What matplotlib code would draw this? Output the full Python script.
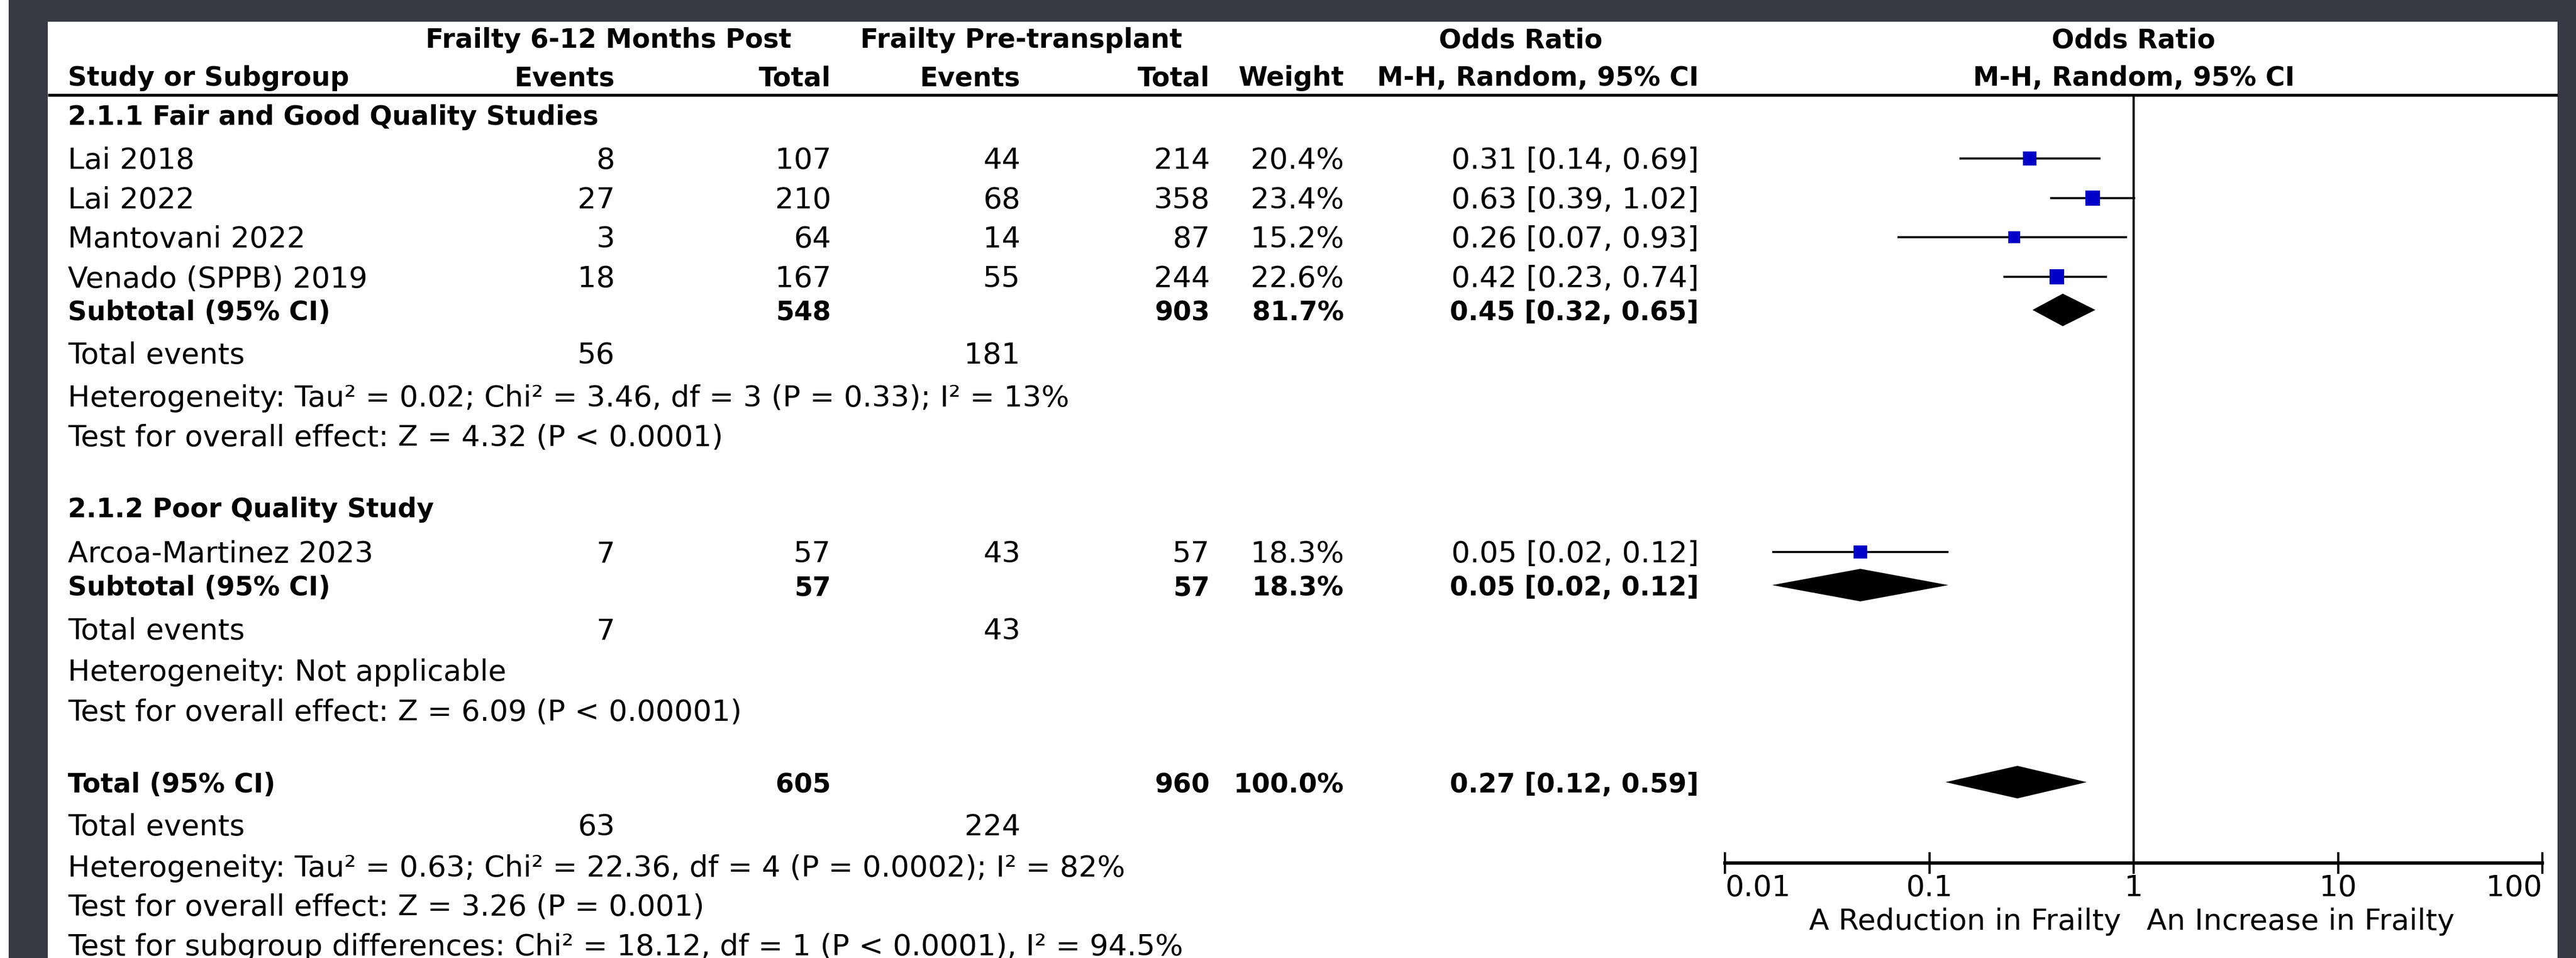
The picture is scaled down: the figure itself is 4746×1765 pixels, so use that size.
import matplotlib
matplotlib.use('Agg')
import matplotlib.pyplot as plt
from matplotlib.patches import Rectangle, Polygon
from matplotlib.ticker import NullLocator

plt.rcParams['font.family'] = ['DejaVu Sans']

# ---------------- data ----------------
studies = ["Lai 2018", "Lai 2022", "Mantovani 2022", "Venado (SPPB) 2019", "Arcoa-Martinez 2023"]
study_group = [0, 0, 0, 0, 1]
events_post = [8, 27, 3, 18, 7]
total_post = [107, 210, 64, 167, 57]
events_pre = [44, 68, 14, 55, 43]
total_pre = [214, 358, 87, 244, 57]
weights = [20.4, 23.4, 15.2, 22.6, 18.3]
odds = [0.31, 0.63, 0.26, 0.42, 0.046]
ci_low = [0.14, 0.39, 0.07, 0.23, 0.017]
ci_high = [0.69, 1.02, 0.93, 0.74, 0.124]

groups = ["2.1.1 Fair and Good Quality Studies", "2.1.2 Poor Quality Study"]
sub_events_post = [56, 7]
sub_events_pre = [181, 43]
sub_total_post = [548, 57]
sub_total_pre = [903, 57]
sub_weight = [81.7, 18.3]
sub_or = [0.45, 0.046]
sub_low = [0.32, 0.017]
sub_high = [0.65, 0.124]
sub_het = ["Heterogeneity: Tau² = 0.02; Chi² = 3.46, df = 3 (P = 0.33); I² = 13%",
           "Heterogeneity: Not applicable"]
sub_test = ["Test for overall effect: Z = 4.32 (P < 0.0001)",
            "Test for overall effect: Z = 6.09 (P < 0.00001)"]

tot_events_post = 63
tot_events_pre = 224
tot_total_post = 605
tot_total_pre = 960
tot_weight = 100.0
tot_or = 0.27
tot_low = 0.12
tot_high = 0.59
tot_het = "Heterogeneity: Tau² = 0.63; Chi² = 22.36, df = 4 (P = 0.0002); I² = 82%"
tot_test = "Test for overall effect: Z = 3.26 (P = 0.001)"
tot_sub = "Test for subgroup differences: Chi² = 18.12, df = 1 (P < 0.0001), I² = 94.5%"

xticks = [0.01, 0.1, 1, 10, 100]
xtick_labels = ["0.01", "0.1", "1", "10", "100"]
favours_left = "A Reduction in Frailty"
favours_right = "An Increase in Frailty"

# ---------------- layout ----------------
W, H = 4746, 1765
DPI = 300
FS = 13.0
FSB = 11.7
CAP = 19
DARK = '#373a44'
BLUE = '#0000c8'

X_NAME, X_E1, X_T1, X_E2, X_T2, X_W, X_CI = 125, 1133, 1531, 1880, 2229, 2476, 3130
AX_L, AX_R, AX_TOP, AX_BOT = 3178, 4684, 175, 1590

group_title_y = [211, 934]
study_y = [292, 365, 437, 510, 1017]
sub_y = [571, 1078]
sub_ev_y = [651, 1159]
sub_het_y = [730, 1235]
sub_test_y = [802, 1308]
tot_y, tot_ev_y, tot_het_y, tot_test_y, tot_sub_y = 1441, 1520, 1596, 1667, 1741

fig = plt.figure(figsize=(W / DPI, H / DPI), dpi=DPI, facecolor='white')
bg = fig.add_axes([0, 0, 1, 1])
bg.set_xlim(0, W)
bg.set_ylim(H, 0)
bg.axis('off')

bg.add_patch(Rectangle((16, 0), 72, H, color=DARK, lw=0))
bg.add_patch(Rectangle((16, 0), W - 16, 40, color=DARK, lw=0))
bg.add_patch(Rectangle((4712, 0), W - 4712, H, color=DARK, lw=0))
bg.plot([88, 4712], [AX_TOP, AX_TOP], color='black', lw=1.3, solid_capstyle='butt')


def t(x, yc, s, ha='left', bold=False):
    bg.text(x, yc + CAP, s, ha=ha, va='baseline', fontsize=FSB if bold else FS,
            fontweight='bold' if bold else 'normal', color='black')


# headers
t(784, 69, "Frailty 6-12 Months Post", bold=True)
t(1585, 69, "Frailty Pre-transplant", bold=True)
t(2802, 69, "Odds Ratio", ha='center', bold=True)
t(3931, 69, "Odds Ratio", ha='center', bold=True)
t(X_NAME, 139, "Study or Subgroup", bold=True)
t(X_E1, 139, "Events", ha='right', bold=True)
t(X_T1, 139, "Total", ha='right', bold=True)
t(X_E2, 139, "Events", ha='right', bold=True)
t(X_T2, 139, "Total", ha='right', bold=True)
t(X_W, 139, "Weight", ha='right', bold=True)
t(X_CI, 139, "M-H, Random, 95% CI", ha='right', bold=True)
t(3931, 139, "M-H, Random, 95% CI", ha='center', bold=True)


def ci_text(o, l, h):
    return f"{o:.2f} [{l:.2f}, {h:.2f}]"


for g in range(len(groups)):
    t(X_NAME, group_title_y[g], groups[g], bold=True)
    for i in range(len(studies)):
        if study_group[i] != g:
            continue
        y = study_y[i]
        t(X_NAME, y, studies[i])
        t(X_E1, y, str(events_post[i]), ha='right')
        t(X_T1, y, str(total_post[i]), ha='right')
        t(X_E2, y, str(events_pre[i]), ha='right')
        t(X_T2, y, str(total_pre[i]), ha='right')
        t(X_W, y, f"{weights[i]:.1f}%", ha='right')
        t(X_CI, y, ci_text(odds[i], ci_low[i], ci_high[i]), ha='right')
    y = sub_y[g]
    t(X_NAME, y, "Subtotal (95% CI)", bold=True)
    t(X_T1, y, str(sub_total_post[g]), ha='right', bold=True)
    t(X_T2, y, str(sub_total_pre[g]), ha='right', bold=True)
    t(X_W, y, f"{sub_weight[g]:.1f}%", ha='right', bold=True)
    t(X_CI, y, ci_text(sub_or[g], sub_low[g], sub_high[g]), ha='right', bold=True)
    t(X_NAME, sub_ev_y[g], "Total events")
    t(X_E1, sub_ev_y[g], str(sub_events_post[g]), ha='right')
    t(X_E2, sub_ev_y[g], str(sub_events_pre[g]), ha='right')
    t(X_NAME, sub_het_y[g], sub_het[g])
    t(X_NAME, sub_test_y[g], sub_test[g])

t(X_NAME, tot_y, "Total (95% CI)", bold=True)
t(X_T1, tot_y, str(tot_total_post), ha='right', bold=True)
t(X_T2, tot_y, str(tot_total_pre), ha='right', bold=True)
t(X_W, tot_y, f"{tot_weight:.1f}%", ha='right', bold=True)
t(X_CI, tot_y, ci_text(tot_or, tot_low, tot_high), ha='right', bold=True)
t(X_NAME, tot_ev_y, "Total events")
t(X_E1, tot_ev_y, str(tot_events_post), ha='right')
t(X_E2, tot_ev_y, str(tot_events_pre), ha='right')
t(X_NAME, tot_het_y, tot_het)
t(X_NAME, tot_test_y, tot_test)
t(X_NAME, tot_sub_y, tot_sub)

# ---------------- forest axes ----------------
ax = fig.add_axes([AX_L / W, 1 - AX_BOT / H, (AX_R - AX_L) / W, (AX_BOT - AX_TOP) / H])
ax.set_xscale('log')
ax.set_xlim(xticks[0], xticks[-1])
ax.set_ylim(AX_BOT, AX_TOP)
ax.patch.set_alpha(0)
for s in ['top', 'left', 'right']:
    ax.spines[s].set_visible(False)
ax.spines['bottom'].set_linewidth(1.5)
ax.set_yticks([])
ax.set_xticks(xticks)
ax.set_xticklabels(xtick_labels)
ax.xaxis.set_minor_locator(NullLocator())
ax.tick_params(axis='x', direction='inout', length=9.6, width=1.0, pad=0, labelsize=FS)
lbls = ax.get_xticklabels()
lbls[0].set_ha('left')
lbls[-1].set_ha('right')

ax.axvline(1, color='black', lw=1.0, zorder=1)
ax.hlines(study_y, ci_low, ci_high, color='black', lw=0.9, zorder=2)
ax.scatter(odds, study_y, s=[w * 1.9 for w in weights], marker='s', color=BLUE,
           linewidths=0, zorder=3)

DH = 30
for g in range(len(groups)):
    y = sub_y[g]
    ax.add_patch(Polygon([[sub_low[g], y], [sub_or[g], y - DH], [sub_high[g], y], [sub_or[g], y + DH]],
                         closed=True, color='black', lw=0, zorder=3))
ax.add_patch(Polygon([[tot_low, tot_y], [tot_or, tot_y - DH], [tot_high, tot_y], [tot_or, tot_y + DH]],
                     closed=True, color='black', lw=0, zorder=3))

t(3908, 1694, favours_left, ha='right')
t(3955, 1694, favours_right, ha='left')

fig.savefig('out.png', dpi=DPI, facecolor='white')
